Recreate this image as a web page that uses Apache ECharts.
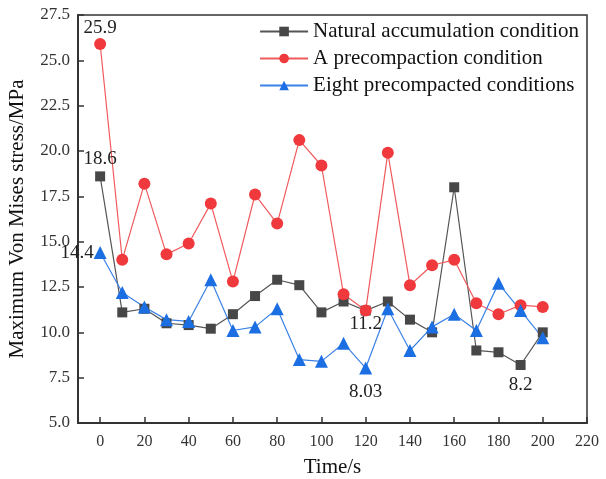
<!DOCTYPE html>
<html>
<head>
<meta charset="utf-8">
<script src="https://cdn.jsdelivr.net/npm/echarts@6/dist/echarts.min.js"></script>
<style>
  html, body { margin: 0; padding: 0; background: #fff; }
  #chart { width: 606px; height: 479px; }
</style>
</head>
<body>
<div id="chart"></div>
<script>
// time (s)
var times = [0, 10, 20, 30, 40, 50, 60, 70, 80, 90, 100, 110, 120, 130, 140, 150, 160, 170, 180, 190, 200];
var naturalValues = [18.6, 11.1, 11.3, 10.5, 10.4, 10.2, 11.0, 12.0, 12.9, 12.6, 11.1, 11.7, 11.2, 11.7, 10.7, 10.0, 18.0, 9.0, 8.9, 8.2, 10.0];
var onceValues = [25.9, 14.0, 18.2, 14.3, 14.9, 17.1, 12.8, 17.6, 16.0, 20.6, 19.2, 12.1, 11.2, 19.9, 12.6, 13.7, 14.0, 11.6, 11.0, 11.5, 11.4];
var eightValues = [14.4, 12.2, 11.4, 10.7, 10.6, 12.9, 10.1, 10.3, 11.3, 8.5, 8.4, 9.4, 8.03, 11.3, 9.0, 10.3, 11.0, 10.1, 12.7, 11.2, 9.7];
var seriesNames = ['Natural accumulation condition', 'A precompaction condition', 'Eight precompacted conditions'];
var xTicks = [0, 20, 40, 60, 80, 100, 120, 140, 160, 180, 200, 220];

var serif = 'Liberation Serif';
var labelFont = {fontFamily: serif, fontSize: 19, color: '#222'};

// which points carry a value label, and where
function buildData(values, labelled) {
  return times.map(function (t, i) {
    var item = {value: [t, values[i]]};
    if (labelled[i]) {
      item.label = Object.assign({show: true, formatter: String(values[i])}, labelFont, labelled[i]);
    }
    return item;
  });
}

var chart = echarts.init(document.getElementById('chart'));
chart.setOption({
  animation: false,
  grid: {
    left: 78, right: 19, top: 15, bottom: 56,
    outerBoundsMode: 'none',
    show: true, borderColor: '#333', borderWidth: 1.5
  },
  legend: {
    right: 22, top: 16,
    orient: 'vertical',
    itemWidth: 48, itemHeight: 12, itemGap: 6,
    textStyle: {fontFamily: serif, fontSize: 21, color: '#111'},
    data: seriesNames
  },
  xAxis: {
    type: 'value',
    min: -10, max: 220,
    name: 'Time/s',
    nameLocation: 'middle',
    nameGap: 34,
    nameTextStyle: {fontFamily: serif, fontSize: 21, color: '#111'},
    axisLine: {lineStyle: {color: '#333', width: 2}},
    axisTick: {inside: true, length: 6, customValues: xTicks, lineStyle: {color: '#333', width: 1.5}},
    axisLabel: {customValues: xTicks, fontFamily: serif, fontSize: 16, color: '#333', margin: 11},
    splitLine: {show: false}
  },
  yAxis: {
    type: 'value',
    min: 5, max: 27.5, interval: 2.5,
    name: 'Maximum Von Mises stress/MPa',
    nameLocation: 'middle',
    nameGap: 50,
    nameTextStyle: {fontFamily: serif, fontSize: 21, color: '#111'},
    axisLine: {show: true, onZero: false, lineStyle: {color: '#333', width: 2}},
    axisTick: {show: true, inside: true, length: 6, lineStyle: {color: '#333', width: 1.5}},
    axisLabel: {
      fontFamily: serif, fontSize: 17, color: '#333', margin: 8,
      formatter: function (v) { return v.toFixed(1); }
    },
    splitLine: {show: false}
  },
  series: [
    {
      name: seriesNames[0],
      type: 'line',
      symbol: 'rect', symbolSize: 10,
      color: '#474747',
      lineStyle: {width: 1.2, color: '#555'},
      data: buildData(naturalValues, {0: {position: 'top', distance: 3}, 19: {position: 'bottom', distance: 6}})
    },
    {
      name: seriesNames[1],
      type: 'line',
      symbol: 'circle', symbolSize: 12,
      color: '#f0393c',
      lineStyle: {width: 1.2, color: '#f05a5c'},
      data: buildData(onceValues, {0: {position: 'top', distance: 0}, 12: {position: 'bottom', distance: -2}})
    },
    {
      name: seriesNames[2],
      type: 'line',
      symbol: 'triangle', symbolSize: 13,
      color: '#1c6fe3',
      lineStyle: {width: 1.2, color: '#3a82e8'},
      data: buildData(eightValues, {0: {position: 'left', distance: 0}, 12: {position: 'bottom', distance: 8}})
    }
  ]
});
</script>
</body>
</html>
